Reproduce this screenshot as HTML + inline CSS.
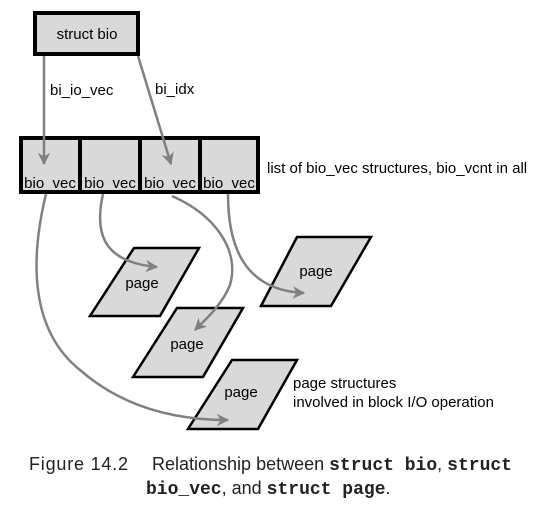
<!DOCTYPE html>
<html><head><style>
body{margin:0;background:#fff;}
svg{display:block;font-family:"Liberation Sans",sans-serif;}
</style></head><body>
<svg width="533" height="506" viewBox="0 0 533 506">
<defs>
<marker id="a" viewBox="0 0 10 10" refX="9" refY="5" markerWidth="5" markerHeight="5" orient="auto"><path d="M0,0 L10,5 L0,10 L3,5 z" fill="#808080"/></marker>
</defs>
<rect x="35" y="13" width="103" height="41" fill="#d9d9d9" stroke="#000" stroke-width="4"/>
<text x="87" y="39" font-size="15" text-anchor="middle">struct bio</text>
<g fill="#d9d9d9" stroke="#000" stroke-width="4">
<rect x="21" y="138" width="59" height="54"/>
<rect x="80" y="138" width="60" height="54"/>
<rect x="140" y="138" width="60" height="54"/>
<rect x="200" y="138" width="58" height="54"/>
</g>
<g font-size="15" text-anchor="middle">
<text x="50" y="188">bio_vec</text><text x="110" y="188">bio_vec</text>
<text x="170" y="188">bio_vec</text><text x="229" y="188">bio_vec</text>
</g>
<text x="267" y="173" font-size="15">list of bio_vec structures, bio_vcnt in all</text>
<text x="50" y="95" font-size="15">bi_io_vec</text>
<text x="155" y="94" font-size="15">bi_idx</text>
<g fill="#d9d9d9" stroke="#000" stroke-width="2.5">
<polygon points="90,316 134,248 199,248 160,316"/>
<polygon points="261,306 297,237 371,237 331,306"/>
<polygon points="133,377 177,308 243,308 203,377"/>
<polygon points="188,429 232,360 297,360 258,429"/>
</g>
<g font-size="15" text-anchor="middle">
<text x="142" y="288">page</text><text x="316" y="276">page</text>
<text x="187" y="349">page</text><text x="241" y="397">page</text>
</g>
<text x="293" y="388" font-size="15">page structures</text>
<text x="293" y="407" font-size="15">involved in block I/O operation</text>
<g fill="none" stroke="#808080" stroke-width="2.5" marker-end="url(#a)">
<path d="M44,56 L44,164"/>
<path d="M138,56 L171,164"/>
<path d="M46,194 C30,260 30,330 80,370 C120,405 170,420 228,420"/>
<path d="M103,194 C95,230 100,262 157,267"/>
<path d="M172,196 C215,215 240,250 230,285 C222,305 205,320 195,330"/>
<path d="M228,194 C228,240 240,290 304,293"/>
</g>
<text x="29" y="470" font-size="18" letter-spacing="0.8" fill="#222">Figure 14.2</text>
<text x="152" y="470" font-size="18" fill="#222" xml:space="preserve">Relationship between <tspan font-family="Liberation Mono" font-weight="bold" font-size="18">struct bio</tspan>, <tspan font-family="Liberation Mono" font-weight="bold" font-size="18">struct</tspan></text>
<text x="146" y="494" font-size="18" fill="#222" xml:space="preserve"><tspan font-family="Liberation Mono" font-weight="bold" font-size="18">bio_vec</tspan>, and <tspan font-family="Liberation Mono" font-weight="bold" font-size="18">struct page</tspan>.</text>
</svg>
</body></html>
